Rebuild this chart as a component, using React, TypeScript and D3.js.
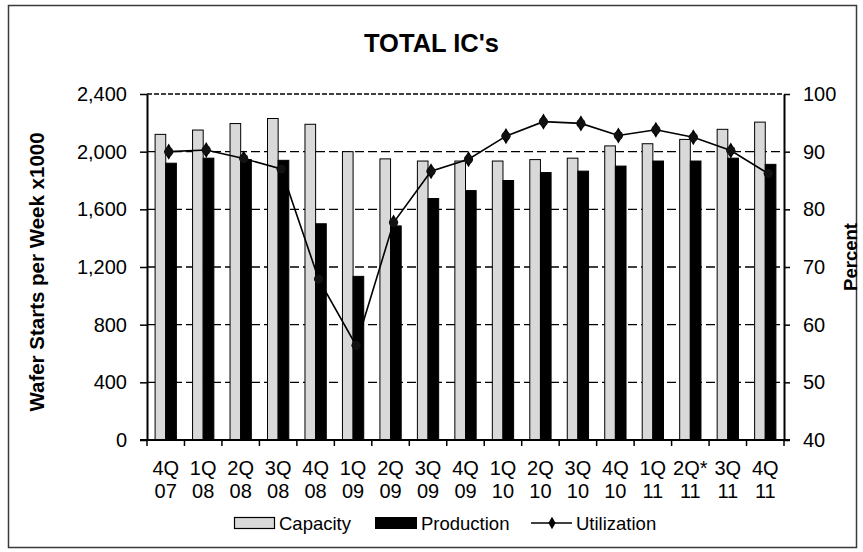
import React, { useEffect, useRef } from 'react';
import * as d3 from 'd3';

const quarters = ['4Q', '1Q', '2Q', '3Q', '4Q', '1Q', '2Q', '3Q', '4Q', '1Q', '2Q', '3Q', '4Q', '1Q', '2Q*', '3Q', '4Q'];
const years = ['07', '08', '08', '08', '08', '09', '09', '09', '09', '10', '10', '10', '10', '11', '11', '11', '11'];
const capacity = [2120, 2150, 2195, 2230, 2190, 2000, 1950, 1935, 1935, 1935, 1945, 1955, 2040, 2055, 2085, 2155, 2205];
const production = [1920, 1955, 1945, 1940, 1500, 1135, 1485, 1675, 1730, 1800, 1855, 1865, 1900, 1935, 1935, 1955, 1912];
const utilization = [90.0, 90.3, 88.8, 87.0, 67.9, 56.4, 77.7, 86.6, 88.7, 92.7, 95.2, 94.9, 92.8, 93.8, 92.5, 90.2, 86.2];
const leftTicks = [0, 400, 800, 1200, 1600, 2000, 2400];
const rightTicks = [40, 50, 60, 70, 80, 90, 100];
const seriesNames = ['Capacity', 'Production'];

export default function App() {
  const ref = useRef<SVGSVGElement>(null);
  useEffect(() => {
    const svg = d3.select(ref.current);
    svg.selectAll('*').remove();
    const font = 'Arial, "Liberation Sans", sans-serif';
    const L = 147, R = 784, T = 94, B = 440;
    const idx = d3.range(quarters.length).map(String);

    const x0 = d3.scaleBand<string>().domain(idx).range([L, R]).padding(0);
    const x1 = d3.scaleBand<string>().domain(seriesNames).range([0, x0.bandwidth()]).paddingInner(0).paddingOuter(0.76);
    const yL = d3.scaleLinear().domain([0, 2400]).range([B, T]);
    const yR = d3.scaleLinear().domain([40, 100]).range([B, T]);

    // frame
    svg.append('rect').attr('x', 8.5).attr('y', 5.5).attr('width', 848).attr('height', 542)
      .attr('fill', '#fff').attr('stroke', '#3a3a3a').attr('stroke-width', 1.5);

    // title
    svg.append('text').attr('x', 431.5).attr('y', 52).attr('text-anchor', 'middle')
      .attr('font-family', font).attr('font-weight', 'bold').attr('font-size', 25.5).text("TOTAL IC's");

    // gridlines
    leftTicks.filter(t => t > 0).forEach(t => {
      svg.append('line').attr('x1', L).attr('x2', R).attr('y1', yL(t)).attr('y2', yL(t))
        .attr('stroke', '#000').attr('stroke-width', 1.3)
        .attr('stroke-dasharray', t === 2400 ? '5,2' : '9,4');
    });

    // bars
    const g = svg.append('g');
    idx.forEach((k, i) => {
      const gx = x0(k)!;
      g.append('rect').attr('x', gx + x1('Capacity')!).attr('y', yL(capacity[i]))
        .attr('width', x1.bandwidth()).attr('height', B - yL(capacity[i]))
        .attr('fill', '#d9d9d9').attr('stroke', '#000').attr('stroke-width', 1);
      g.append('rect').attr('x', gx + x1('Production')!).attr('y', yL(production[i]))
        .attr('width', x1.bandwidth()).attr('height', B - yL(production[i]))
        .attr('fill', '#000').attr('stroke', '#000').attr('stroke-width', 1);
    });

    // axes
    const axL = svg.append('g').attr('transform', `translate(${L},0)`)
      .call(d3.axisLeft(yL).tickValues(leftTicks).tickFormat(d3.format(',') as any).tickSize(7).tickSizeOuter(0));
    axL.selectAll('text').attr('font-family', font).attr('font-size', 20).attr('fill', '#000').attr('x', -20);
    const axR = svg.append('g').attr('transform', `translate(${R},0)`)
      .call(d3.axisRight(yR).tickValues(rightTicks).tickSize(6).tickSizeOuter(0));
    axR.selectAll('text').attr('font-family', font).attr('font-size', 20).attr('fill', '#000').attr('x', 19);
    [axL, axR].forEach(a => {
      a.select('.domain').attr('stroke', '#000').attr('stroke-width', 2);
      a.selectAll('.tick line').attr('stroke', '#000').attr('stroke-width', 1.5);
    });

    // bottom axis
    svg.append('line').attr('x1', L - 7).attr('x2', R + 6).attr('y1', B).attr('y2', B)
      .attr('stroke', '#000').attr('stroke-width', 2);
    d3.range(quarters.length + 1).forEach(i => {
      const x = L + i * x0.step();
      svg.append('line').attr('x1', x).attr('x2', x).attr('y1', B).attr('y2', B + 6)
        .attr('stroke', '#000').attr('stroke-width', 1.5);
    });
    idx.forEach((k, i) => {
      const cx = x0(k)! + x0.bandwidth() / 2;
      const t = svg.append('text').attr('text-anchor', 'middle').attr('font-family', font).attr('font-size', 20);
      t.append('tspan').attr('x', cx).attr('y', 475).text(quarters[i]);
      t.append('tspan').attr('x', cx).attr('y', 498).text(years[i]);
    });

    // axis titles
    svg.append('text').attr('transform', 'translate(44,272) rotate(-90)').attr('text-anchor', 'middle')
      .attr('font-family', font).attr('font-weight', 'bold').attr('font-size', 20.5).text('Wafer Starts per Week x1000');
    svg.append('text').attr('transform', 'translate(857,257) rotate(-90)').attr('text-anchor', 'middle')
      .attr('font-family', font).attr('font-weight', 'bold').attr('font-size', 18.5).text('Percent');

    // utilization line
    const px = (i: number) => x0(String(i))! + x0.bandwidth() / 2 + 3;
    const line = d3.line<number>().x((_, i) => px(i)).y(d => yR(d));
    svg.append('path').attr('d', line(utilization)!).attr('fill', 'none').attr('stroke', '#000').attr('stroke-width', 1.6);
    const dia = d3.symbol().type(d3.symbolDiamond).size(75)();
    const circ = d3.symbol().type(d3.symbolCircle).size(66)();
    utilization.forEach((u, i) => {
      const mg = svg.append('g').attr('transform', `translate(${px(i)},${yR(u)})`);
      mg.append('path').attr('d', dia).attr('fill', '#000');
      mg.append('path').attr('d', circ).attr('fill', '#111');
    });

    // legend
    const lg = svg.append('g').attr('font-family', font).attr('font-size', 18.5);
    lg.append('rect').attr('x', 234.5).attr('y', 517.5).attr('width', 40).attr('height', 11)
      .attr('fill', '#d9d9d9').attr('stroke', '#000').attr('stroke-width', 1.2);
    lg.append('text').attr('x', 279).attr('y', 530).text('Capacity');
    lg.append('rect').attr('x', 375).attr('y', 517).attr('width', 42).attr('height', 12).attr('fill', '#000');
    lg.append('text').attr('x', 421).attr('y', 530).text('Production');
    lg.append('line').attr('x1', 531).attr('x2', 572).attr('y1', 523).attr('y2', 523).attr('stroke', '#000').attr('stroke-width', 1.6);
    lg.append('path').attr('d', d3.symbol().type(d3.symbolDiamond).size(45)()).attr('transform', 'translate(552,523)').attr('fill', '#000');
    lg.append('text').attr('x', 576).attr('y', 530).text('Utilization');
  }, []);
  return <svg ref={ref} width={863} height={552} style={{ position: 'absolute', left: 0, top: 0, background: '#fff' }} />;
}
